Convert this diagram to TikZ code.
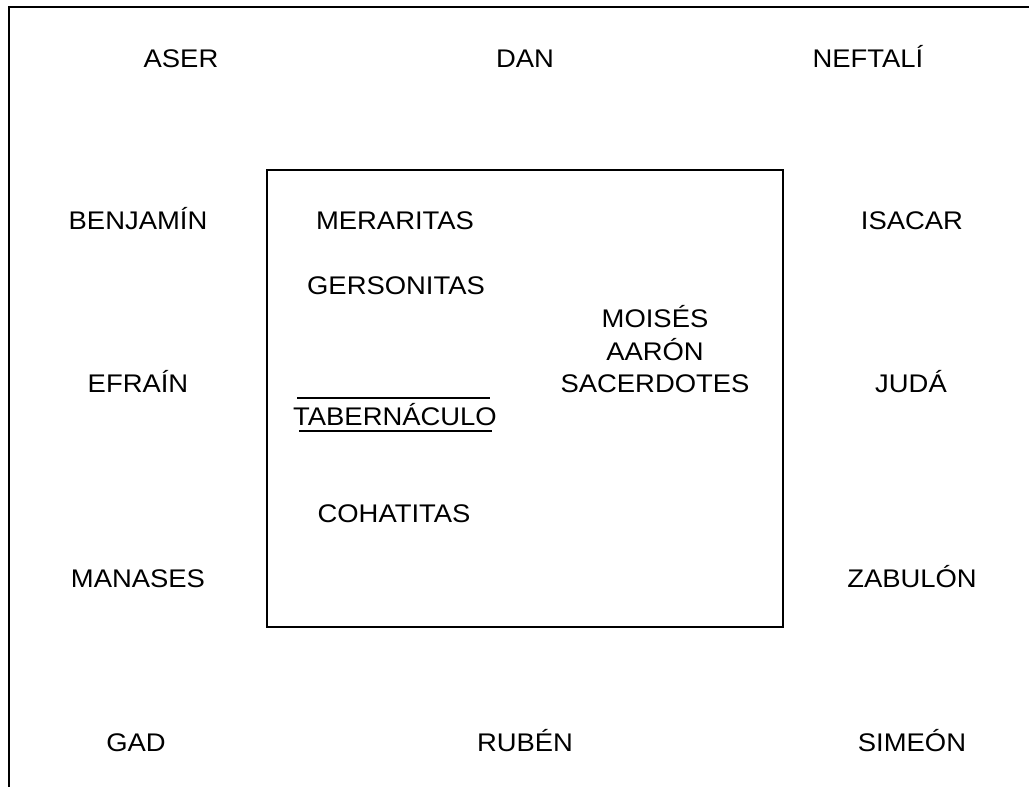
\documentclass[tikz,border=0pt]{standalone}
\usepackage{fontspec}
\setmainfont[FakeStretch=1.075]{Liberation Sans}
\begin{document}
\begin{tikzpicture}[x=1pt,y=-1pt,
  lbl/.style={anchor=base,inner sep=0pt,font=\fontsize{25.5}{32.5}\selectfont},
  frame/.style={line width=2pt},
  rule/.style={line width=1.8pt}]
\useasboundingbox (0,0) rectangle (1029,787);
% open outer frame
\draw[frame] (9,787) -- (9,7) -- (1029,7);
% inner box
\draw[frame] (267,170) rectangle (783,627);
% tribes
\node[lbl] (aser) at (181,67) {ASER};
\node[lbl] (dan) at (525,67) {DAN};
\node[lbl] (neftali) at (868,67) {NEFTALÍ};
\node[lbl] (benjamin) at (138,229) {BENJAMÍN};
\node[lbl] (isacar) at (912,229) {ISACAR};
\node[lbl] (efrain) at (138,392) {EFRAÍN};
\node[lbl] (juda) at (911,392) {JUDÁ};
\node[lbl] (manases) at (138,587) {MANASES};
\node[lbl] (zabulon) at (912,587) {ZABULÓN};
\node[lbl] (gad) at (136,751) {GAD};
\node[lbl] (ruben) at (525,751) {RUBÉN};
\node[lbl] (simeon) at (912,751) {SIMEÓN};
% inside
\node[lbl] (merari) at (395,229) {MERARITAS};
\node[lbl] (gerson) at (396,294) {GERSONITAS};
\node[lbl] (moises) at (655,327) {MOISÉS};
\node[lbl] (aaron) at (655,360) {AARÓN};
\node[lbl] (sacer) at (655,392) {SACERDOTES};
\node[lbl] (tab) at (395,425) {TABERNÁCULO};
\node[lbl] (cohat) at (394,522) {COHATITAS};
\draw[rule] (297,398) -- (490,398);
\draw[rule] (299,431) -- (492,431);
\end{tikzpicture}
\end{document}
